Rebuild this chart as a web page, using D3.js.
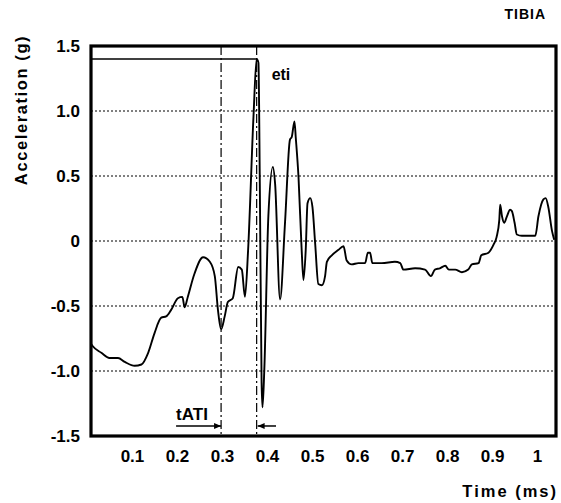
<!DOCTYPE html>
<html>
<head>
<meta charset="utf-8">
<script src="https://cdn.jsdelivr.net/npm/d3@7"></script>
<style>
  html, body { margin: 0; padding: 0; background: #fff; }
  svg { display: block; font-family: "Liberation Sans", Arial, sans-serif; }
</style>
</head>
<body>
<svg id="chart" width="561" height="503"></svg>
<script>
// Tibia acceleration trace (time in ms, acceleration in g)
const time = [
  0.009, 0.013, 0.032, 0.050, 0.069, 0.084, 0.106, 0.121, 0.136, 0.150, 0.165, 0.176, 0.187,
  0.202, 0.212, 0.217, 0.224, 0.239, 0.258, 0.273, 0.284, 0.291, 0.298, 0.306,
  0.313, 0.324, 0.336, 0.344, 0.351, 0.358, 0.370, 0.377, 0.381, 0.384, 0.388,
  0.390, 0.394, 0.403, 0.413, 0.418, 0.429, 0.440, 0.451, 0.455, 0.461, 0.464,
  0.470, 0.477, 0.481, 0.486, 0.490, 0.496, 0.501, 0.507, 0.514, 0.522, 0.529,
  0.533, 0.544, 0.558, 0.570, 0.577, 0.588, 0.603, 0.618, 0.624, 0.629, 0.634,
  0.655, 0.684, 0.696, 0.703, 0.729, 0.751, 0.764, 0.773, 0.784, 0.796, 0.804,
  0.818, 0.833, 0.847, 0.855, 0.870, 0.876, 0.892, 0.903, 0.910, 0.916, 0.918,
  0.922, 0.927, 0.933, 0.940, 0.944, 0.950, 0.955, 0.966, 0.996, 1.003, 1.014,
  1.019, 1.025, 1.033, 1.038
];
const accel = [
  -0.79, -0.81, -0.86, -0.90, -0.90, -0.93, -0.96, -0.95, -0.86, -0.71, -0.59, -0.58, -0.53,
  -0.44, -0.43, -0.51, -0.43, -0.25, -0.125, -0.16, -0.27, -0.53, -0.68, -0.58,
  -0.47, -0.44, -0.20, -0.22, -0.43, -0.07, 0.96, 1.40, 1.37, 0.45, -1.09,
  -1.28, -0.99, 0.19, 0.57, 0.44, -0.45, 0.14, 0.78, 0.80, 0.92, 0.79,
  0.49, -0.07, -0.30, -0.07, 0.29, 0.33, 0.26, -0.02, -0.33, -0.34, -0.27,
  -0.16, -0.11, -0.07, -0.04, -0.15, -0.18, -0.17, -0.17, -0.09, -0.09, -0.17,
  -0.17, -0.16, -0.17, -0.22, -0.21, -0.22, -0.27, -0.22, -0.21, -0.19, -0.22,
  -0.22, -0.24, -0.22, -0.18, -0.17, -0.11, -0.09, -0.03, 0.03, 0.16, 0.28,
  0.19, 0.14, 0.19, 0.24, 0.23, 0.14, 0.05, 0.04, 0.04, 0.19, 0.32,
  0.33, 0.26, 0.08, 0.01
];

const xTicks = [0.1, 0.2, 0.3, 0.4, 0.5, 0.6, 0.7, 0.8, 0.9, 1];
const xTickLabels = ["0.1", "0.2", "0.3", "0.4", "0.5", "0.6", "0.7", "0.8", "0.9", "1"];
const yTicks = [1.5, 1.0, 0.5, 0, -0.5, -1.0, -1.5];
const yTickLabels = ["1.5", "1.0", "0.5", "0", "-0.5", "-1.0", "-1.5"];
const gridValues = [1.0, 0.5, 0, -0.5, -1.0];

// Event markers: acceleration threshold time and peak (eti)
const tATI = 0.298;
const etiTime = 0.377;
const etiValue = 1.40;

const svg = d3.select("#chart");
const plotLeft = 91, plotRight = 556, plotTop = 46, plotBottom = 436;

const x = d3.scaleLinear().domain([0.009, 1.042]).range([plotLeft, plotRight]);
const y = d3.scaleLinear().domain([-1.5, 1.5]).range([plotBottom, plotTop]);

// Dotted horizontal grid
svg.append("g").selectAll("line").data(gridValues).join("line")
  .attr("x1", plotLeft).attr("x2", plotRight)
  .attr("y1", d => y(d)).attr("y2", d => y(d))
  .attr("stroke", "#000").attr("stroke-width", 1)
  .attr("stroke-dasharray", "2,2");

// Dash-dot vertical markers
svg.append("g").selectAll("line").data([tATI, etiTime]).join("line")
  .attr("x1", d => x(d)).attr("x2", d => x(d))
  .attr("y1", plotTop).attr("y2", plotBottom)
  .attr("stroke", "#000").attr("stroke-width", 1.2)
  .attr("stroke-dasharray", "9,3,2,3");

// Peak level line
svg.append("line")
  .attr("x1", plotLeft).attr("x2", x(etiTime))
  .attr("y1", y(etiValue)).attr("y2", y(etiValue))
  .attr("stroke", "#000").attr("stroke-width", 1.6);

// Acceleration curve
const pts = time.map((t, i) => [t, accel[i]]);
const line = d3.line().x(d => x(d[0])).y(d => y(d[1])).curve(d3.curveMonotoneX);
svg.append("path").datum(pts)
  .attr("d", line)
  .attr("fill", "none").attr("stroke", "#000")
  .attr("stroke-width", 1.9).attr("stroke-linejoin", "round");

// Frame
svg.append("rect")
  .attr("x", plotLeft).attr("y", plotTop)
  .attr("width", plotRight - plotLeft).attr("height", plotBottom - plotTop)
  .attr("fill", "none").attr("stroke", "#000").attr("stroke-width", 3.2);

// Axis tick labels
const xAxis = d3.axisBottom(x).tickValues(xTicks)
  .tickFormat((d, i) => xTickLabels[i]).tickSize(0).tickPadding(14);
const gx = svg.append("g").attr("transform", `translate(0,${plotBottom})`).call(xAxis);
gx.select(".domain").remove();
gx.selectAll("text").attr("font-size", 17).attr("font-weight", "bold")
  .attr("font-family", "Liberation Sans, Arial, sans-serif").attr("fill", "#000");

const yAxis = d3.axisLeft(y).tickValues(yTicks)
  .tickFormat((d, i) => yTickLabels[i]).tickSize(0).tickPadding(11);
const gy = svg.append("g").attr("transform", `translate(${plotLeft},0)`).call(yAxis);
gy.select(".domain").remove();
gy.selectAll("text").attr("font-size", 17).attr("font-weight", "bold")
  .attr("font-family", "Liberation Sans, Arial, sans-serif").attr("fill", "#000");

// Axis titles
svg.append("text")
  .attr("transform", "translate(27,110) rotate(-90)")
  .attr("text-anchor", "middle")
  .attr("font-size", 16.5).attr("font-weight", "bold")
  .attr("letter-spacing", 1.6)
  .text("Acceleration (g)");

svg.append("text")
  .attr("x", 558).attr("y", 497)
  .attr("text-anchor", "end")
  .attr("font-size", 16.5).attr("font-weight", "bold")
  .attr("letter-spacing", 2)
  .text("Time (ms)");

svg.append("text")
  .attr("x", 546).attr("y", 19)
  .attr("text-anchor", "end")
  .attr("font-size", 14).attr("font-weight", "bold")
  .attr("letter-spacing", 1)
  .text("TIBIA");

// Annotations
svg.append("text")
  .attr("x", x(etiTime) + 15).attr("y", 80)
  .attr("font-size", 16).attr("font-weight", "bold")
  .text("eti");

svg.append("text")
  .attr("x", x(tATI) - 45).attr("y", 420)
  .attr("font-size", 17).attr("font-weight", "bold")
  .text("tATI");

// Arrows pointing at the two marker lines
const arrowY = y(-1.423);
function arrow(x1, x2) {
  svg.append("line")
    .attr("x1", x1).attr("x2", x2).attr("y1", arrowY).attr("y2", arrowY)
    .attr("stroke", "#000").attr("stroke-width", 1.5);
  const dir = Math.sign(x2 - x1);
  svg.append("path")
    .attr("d", `M${x2},${arrowY} L${x2 - dir * 7},${arrowY - 3} L${x2 - dir * 7},${arrowY + 3} Z`)
    .attr("fill", "#000");
}
arrow(x(0.198), x(tATI));
arrow(x(0.42), x(etiTime) + 1);
</script>
</body>
</html>
